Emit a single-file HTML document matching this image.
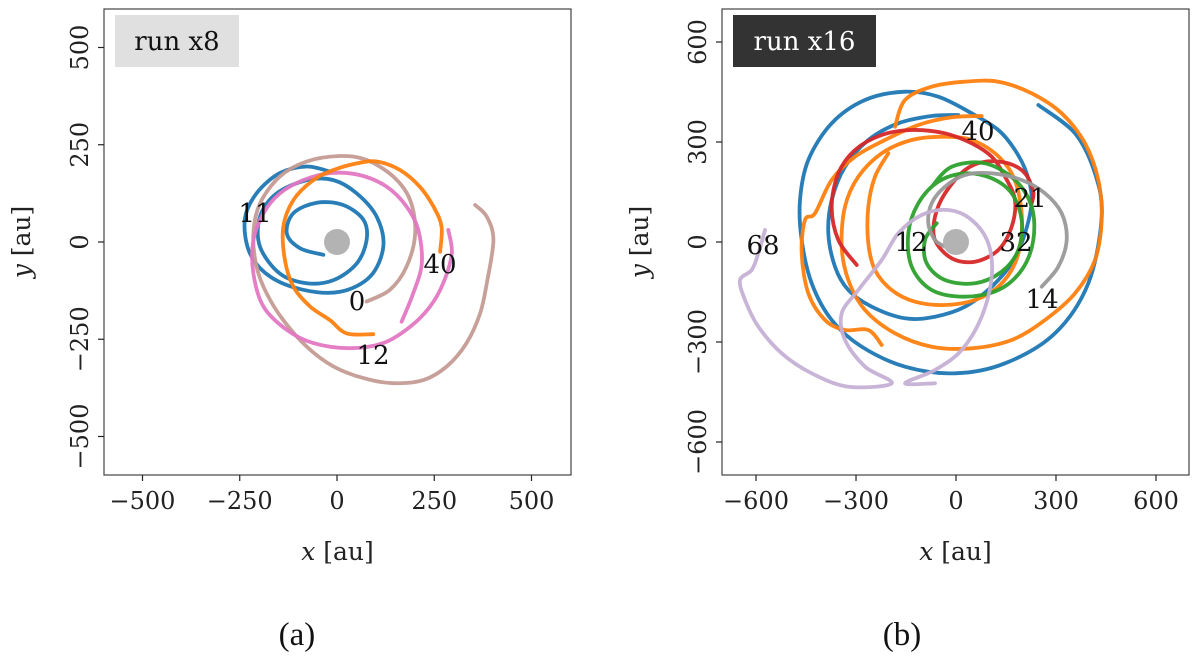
<!DOCTYPE html>
<html><head><meta charset="utf-8">
<style>
html,body{margin:0;padding:0;background:#fff;}
svg{display:block;}
text{font-family:"DejaVu Serif","Liberation Serif",serif;}
</style></head>
<body>
<svg id="fig" width="1200" height="658" viewBox="0 0 1200 658" xmlns="http://www.w3.org/2000/svg"></svg>
<script>
// ---- Panel (a) data, in au ----
const aTicks = [-500, -250, 0, 250, 500];
const aTickLabels = ["\u2212500", "\u2212250", "0", "250", "500"];
const aBlueX = [-35,-95,-129,-112,-52,16,68,76,51,-9,-78,-147,-198,-198,-155,-78,-9,51,102,119,85,8,-87,-172,-224,-237,-207,-147,-78,-18];
const aBlueY = [-33,-16,22,74,101,95,57,5,-55,-98,-106,-81,-12,65,125,159,159,125,65,-12,-89,-128,-123,-89,-29,57,125,177,194,181];
const aOrangeX = [93,25,-18,-69,-112,-134,-138,-112,-61,-9,51,102,162,213,248,269,265];
const aOrangeY = [-237,-235,-201,-166,-115,-46,39,108,159,185,202,207,185,142,91,39,-25];
const aPinkX = [286,295,273,239,188,119,33,-61,-129,-189,-215,-215,-189,-147,-87,-18,59,128,179,209,218,196,166];
const aPinkY = [31,-29,-106,-166,-218,-260,-273,-260,-226,-166,-81,5,74,125,159,177,172,142,91,31,-55,-132,-205];
const aBrownX = [76,136,179,201,188,145,76,8,-78,-147,-198,-215,-207,-181,-138,-78,-9,68,145,222,282,333,368,385,402,385,355];
const aBrownY = [-153,-123,-63,22,108,168,211,221,207,168,99,22,-63,-132,-201,-269,-320,-350,-363,-355,-320,-260,-183,-106,5,65,95];

// ---- Panel (b) data, in au ----
const bTicks = [-600, -300, 0, 300, 600];
const bTickLabels = ["\u2212600", "\u2212300", "0", "300", "600"];
const bBlueX = [7,-73,-173,-263,-333,-373,-383,-363,-323,-253,-153,-63,27,107,167,207,227,212,177,127,47,-53,-153,-273,-373,-443,-468,-463,-433,-373,-283,-153,-3,147,297,397,437,417,357,247];
const bBlueY = [381,378,356,306,226,126,26,-74,-144,-194,-229,-224,-194,-134,-64,26,126,206,276,336,386,436,451,426,356,246,126,6,-124,-234,-314,-374,-394,-364,-274,-124,76,206,326,411];
const bOrangeAX = [-223,-263,-333,-393,-443,-463,-453,-423,-373,-303,-213,-113,-13,77];
const bOrangeAY = [-309,-264,-264,-234,-154,-34,66,86,186,256,306,351,374,378];
const bOrangeBX = [-183,-153,-73,27,127,227,317,387,427,437,417,357,267,167,47,-73,-183,-273,-323,-343,-333,-293,-223,-133,-33,47,117,167,192,197,177,127,57,-33,-123,-193,-243,-263,-263,-243,-203];
const bOrangeBY = [346,426,466,481,481,446,386,296,186,66,-54,-154,-234,-294,-319,-314,-274,-204,-114,-14,106,196,266,306,316,306,266,206,126,26,-64,-134,-174,-189,-179,-144,-84,-4,106,196,266];
const bRedX = [-298,-353,-373,-353,-303,-223,-133,-33,47,107,147,177,167,127,57,-13,-63,-63,-33,27,87,157,207,232,227];
const bRedY = [-69,6,106,206,276,321,336,326,296,256,196,126,46,-24,-59,-49,6,76,146,216,241,236,206,151,116];
const bGreenX = [-58,-93,-88,-33,57,137,187,197,167,107,27,-53,-113,-143,-133,-73,27,127,197,232,227,177,87,-13,-73];
const bGreenY = [56,6,-64,-114,-124,-89,-24,66,146,191,206,181,116,26,-74,-144,-164,-144,-84,6,106,186,236,226,166];
const bGrayX = [257,307,332,317,267,197,107,27,-33,-73,-83,-63,-33];
const bGrayY = [-134,-74,6,86,146,186,206,201,166,116,56,6,-14];
const bLavX = [-573,-593,-613,-648,-633,-593,-523,-433,-323,-193,-273,-333,-343,-293,-223,-173,-103,-23,47,97,107,77,17,-63,-153,-63];
const bLavY = [36,-34,-84,-114,-174,-254,-334,-394,-434,-424,-374,-294,-214,-144,-54,26,81,96,66,-4,-104,-224,-324,-384,-424,-424];

const NS = "http://www.w3.org/2000/svg";
const svg = document.getElementById('fig');
function mk(tag, attrs, parent) {
  const e = document.createElementNS(NS, tag);
  for (const k in attrs) e.setAttribute(k, attrs[k]);
  (parent || svg).appendChild(e);
  return e;
}
function smoothPath(pts) {
  if (pts.length < 2) return "";
  let d = "M" + pts[0][0].toFixed(1) + "," + pts[0][1].toFixed(1);
  for (let i = 0; i < pts.length - 1; i++) {
    const p0 = pts[i - 1] || pts[i], p1 = pts[i], p2 = pts[i + 1], p3 = pts[i + 2] || p2;
    const c1x = p1[0] + (p2[0] - p0[0]) / 6, c1y = p1[1] + (p2[1] - p0[1]) / 6;
    const c2x = p2[0] - (p3[0] - p1[0]) / 6, c2y = p2[1] - (p3[1] - p1[1]) / 6;
    d += "C" + c1x.toFixed(1) + "," + c1y.toFixed(1) + " " + c2x.toFixed(1) + "," + c2y.toFixed(1) + " " + p2[0].toFixed(1) + "," + p2[1].toFixed(1);
  }
  return d;
}

function panel(cfg) {
  const g = mk('g', {});
  
  
  const sx = v => cfg.cx + v * cfg.k;
  const sy = v => cfg.cy - v * cfg.k;
  cfg.series.forEach(s => {
    const pts = s.x.map((v, i) => [sx(v), sy(s.y[i])]);
    const p = mk('path', {d: smoothPath(pts), fill: 'none', stroke: s.color, 'stroke-width': 3.8, 'stroke-linejoin': 'round', 'stroke-linecap': 'round', opacity: 0.95}, g);
    
    
  });
  const st = mk('circle', {cx: sx(0), cy: sy(0), r: 13, fill: '#b3b3b3'}, g);
  
  
  const fr = mk('rect', {x: cfg.x0, y: cfg.y0, width: cfg.x1 - cfg.x0, height: cfg.y1 - cfg.y0, fill: 'none', stroke: '#444', 'stroke-width': 1.2}, g);
  
  
  cfg.ticks.forEach((t, i) => {
    const X = sx(t), Y = sy(t);
    mk('line', {x1: X, y1: cfg.y1, x2: X, y2: cfg.y1 + 6, stroke: '#222', 'stroke-width': 1.2}, g);
    const xl = mk('text', {x: X, y: cfg.y1 + 34, 'font-size': 24, 'text-anchor': 'middle', fill: '#222'}, g);
    xl.textContent = cfg.tickLabels[i];
    
    
    mk('line', {x1: cfg.x0 - 6, y1: Y, x2: cfg.x0, y2: Y, stroke: '#222', 'stroke-width': 1.2}, g);
    const yl = mk('text', {x: 0, y: 0, 'font-size': 24, 'text-anchor': 'middle', fill: '#222', transform: 'translate(' + (cfg.x0 - 16) + ',' + Y + ') rotate(-90)'}, g);
    yl.textContent = cfg.tickLabels[i];
    
    
  });
  const xt = mk('text', {x: (cfg.x0 + cfg.x1) / 2, y: 560, 'font-size': 25, 'text-anchor': 'middle', fill: '#222'}, g);
  xt.innerHTML = '<tspan font-style="italic">x</tspan> [au]';
  
  
  const yt = mk('text', {x: 0, y: 0, 'font-size': 25, 'text-anchor': 'middle', fill: '#222', transform: 'translate(' + (cfg.x0 - 74) + ',' + ((cfg.y0 + cfg.y1) / 2) + ') rotate(-90)'}, g);
  yt.innerHTML = '<tspan font-style="italic">y</tspan> [au]';
  
  
  const rb = mk('rect', {x: cfg.x0 + 11, y: 15, width: cfg.boxW, height: 52, fill: cfg.boxFill}, g);
  
  
  const rt = mk('text', {x: cfg.x0 + 11 + cfg.boxW / 2, y: 50, 'font-size': 26, 'text-anchor': 'middle', fill: cfg.boxText}, g);
  rt.textContent = cfg.runLabel;
  
  
  cfg.labels.forEach(l => {
    const t = mk('text', {x: l[1], y: l[2], 'font-size': 26, 'text-anchor': 'middle', fill: '#111'}, g);
    t.textContent = l[0];
    
    
  });
  const cp = mk('text', {x: cfg.capX, y: 645, 'font-size': 33, 'text-anchor': 'middle', fill: '#111', style: 'font-family:"Liberation Serif",serif'}, g);
  cp.textContent = cfg.caption;
  
  
}

panel({
  name: 'panel-a', x0: 104, x1: 571, y0: 9, y1: 475, cx: 337, cy: 242, k: 0.389,
  ticks: aTicks, tickLabels: aTickLabels,
  series: [
    {name: 'trajectory-0', color: '#1f77b4', x: aBlueX, y: aBlueY},
    {name: 'trajectory-11', color: '#c49c94', x: aBrownX, y: aBrownY},
    {name: 'trajectory-12', color: '#e377c2', x: aPinkX, y: aPinkY},
    {name: 'trajectory-40', color: '#ff7f0e', x: aOrangeX, y: aOrangeY}
  ],
  boxW: 124, boxFill: '#e0e0e0', boxText: '#111', runLabel: 'run x8',
  labels: [['11', 255, 222], ['40', 440, 273], ['0', 357, 310], ['12', 373, 364]],
  capX: 297, caption: '(a)'
});
panel({
  name: 'panel-b', x0: 722, x1: 1189, y0: 9, y1: 475, cx: 956, cy: 242, k: 0.3333,
  ticks: bTicks, tickLabels: bTickLabels,
  series: [
    {name: 'trajectory-blue', color: '#1f77b4', x: bBlueX, y: bBlueY},
    {name: 'trajectory-orange-a', color: '#ff7f0e', x: bOrangeAX, y: bOrangeAY},
    {name: 'trajectory-orange-b', color: '#ff7f0e', x: bOrangeBX, y: bOrangeBY},
    {name: 'trajectory-40', color: '#d62728', x: bRedX, y: bRedY},
    {name: 'trajectory-12', color: '#2ca02c', x: bGreenX, y: bGreenY},
    {name: 'trajectory-14', color: '#999999', x: bGrayX, y: bGrayY},
    {name: 'trajectory-68', color: '#c5b0d5', x: bLavX, y: bLavY}
  ],
  boxW: 143, boxFill: '#333333', boxText: '#fff', runLabel: 'run x16',
  labels: [['40', 978, 140], ['21', 1030, 207], ['32', 1016, 251], ['12', 911, 251], ['14', 1042, 308], ['68', 763, 254]],
  capX: 902, caption: '(b)'
});
</script>
</body></html>
